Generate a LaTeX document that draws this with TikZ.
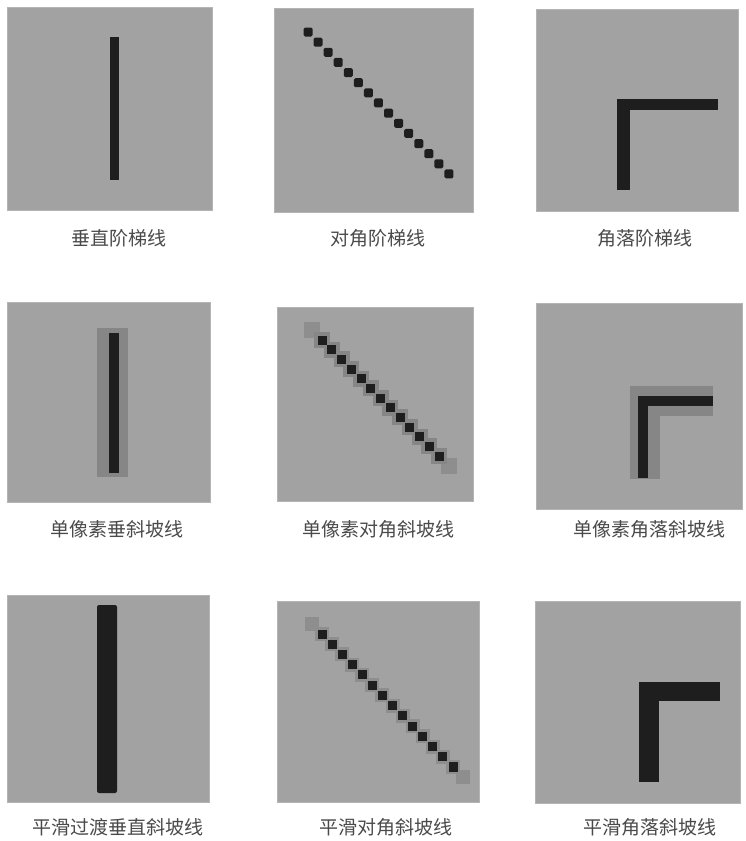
\documentclass[tikz,border=0pt]{standalone}
\usepackage{fontspec}
\newfontfamily\cjk{Noto Sans CJK SC}
\usepackage{tikz}
\usetikzlibrary{positioning, calc}
\definecolor{slGray}{HTML}{A2A2A2}
\definecolor{slEdge}{HTML}{B4B4B4}
\definecolor{slDark}{HTML}{1E1E1E}
\definecolor{slHalo}{HTML}{868686}
\definecolor{slSoft}{HTML}{8E8E8E}
\definecolor{slText}{HTML}{4A4A4A}

\begin{document}
\begin{tikzpicture}[x=1pt, y=-1pt,
  panel/.style={fill=slGray, draw=slEdge, line width=1pt},
  bar/.style={fill=slDark},
  halo/.style={fill=slHalo},
  soft/.style={fill=slSoft},
  caption/.style={text=slText, font=\cjk\fontsize{19pt}{22pt}\selectfont, inner sep=0pt}]
  \useasboundingbox (0,0) rectangle (746,841);

  % row 1
  \path[panel] (7,7) rectangle (212,210);
  \path[panel] (274,8) rectangle (473,212);
  \path[panel] (536,9) rectangle (738,211);
  \path[bar] (110,37) rectangle (119,180);
  \foreach \i in {0,...,14}
    \path[bar, rounded corners=1.5pt] ($(308,32)+\i*(10.07,10.14)+(-4.5,-4.5)$) rectangle +(9,9);
  \path[bar] (617,99) rectangle (630,190);
  \path[bar] (617,99) rectangle (718,110);
  \node[caption] (c11) at (119,238) {垂直阶梯线};
  \node[caption] (c12) at (378,238) {对角阶梯线};
  \node[caption] (c13) at (645,238) {角落阶梯线};

  % row 2
  \path[panel] (7,302) rectangle (210,502);
  \path[panel] (277,307) rectangle (473,501);
  \path[panel] (536,303) rectangle (742,509);
  \path[halo] (97,328) rectangle (128,477);
  \path[bar] (109,333) rectangle (119,473);
  \foreach \i in {-1,13}
    \path[soft] ($(322,340)+\i*(9.75,9.67)+(-8,-8)$) rectangle +(16,16);
  \foreach \i in {0,...,12}
    \path[halo] ($(322,340)+\i*(9.75,9.67)+(-8,-8)$) rectangle +(16,16);
  \foreach \i in {0,...,12}
    \path[bar] ($(322,340)+\i*(9.75,9.67)+(-4.5,-4.5)$) rectangle +(9,9);
  \path[halo] (630,386) rectangle (660,479);
  \path[halo] (630,386) rectangle (713,416);
  \path[bar] (638,396) rectangle (648,478);
  \path[bar] (638,396) rectangle (713,406);
  \node[caption] (c21) at (117,529) {单像素垂斜坡线};
  \node[caption] (c22) at (378,529) {单像素对角斜坡线};
  \node[caption] (c23) at (649,529) {单像素角落斜坡线};

  % row 3
  \path[panel] (7,595) rectangle (209,802);
  \path[panel] (277,601) rectangle (479,802);
  \path[panel] (535,601) rectangle (740,803);
  \path[bar, rounded corners=2pt] (97,605) rectangle (117,793);
  \foreach \i in {-1,...,14}
    \path[soft] ($(322,634)+\i*(10.08,10.23)+(-7,-7)$) rectangle +(14,14);
  \foreach \i in {0,...,13}
    \path[bar] ($(322,634)+\i*(10.08,10.23)+(-4.5,-4.5)$) rectangle +(9,9);
  \path[bar] (639,682) rectangle (659,782);
  \path[bar] (639,682) rectangle (720,701);
  \node[caption] (c31) at (118,827) {平滑过渡垂直斜坡线};
  \node[caption] (c32) at (386,827) {平滑对角斜坡线};
  \node[caption] (c33) at (650,827) {平滑角落斜坡线};
\end{tikzpicture}
\end{document}
